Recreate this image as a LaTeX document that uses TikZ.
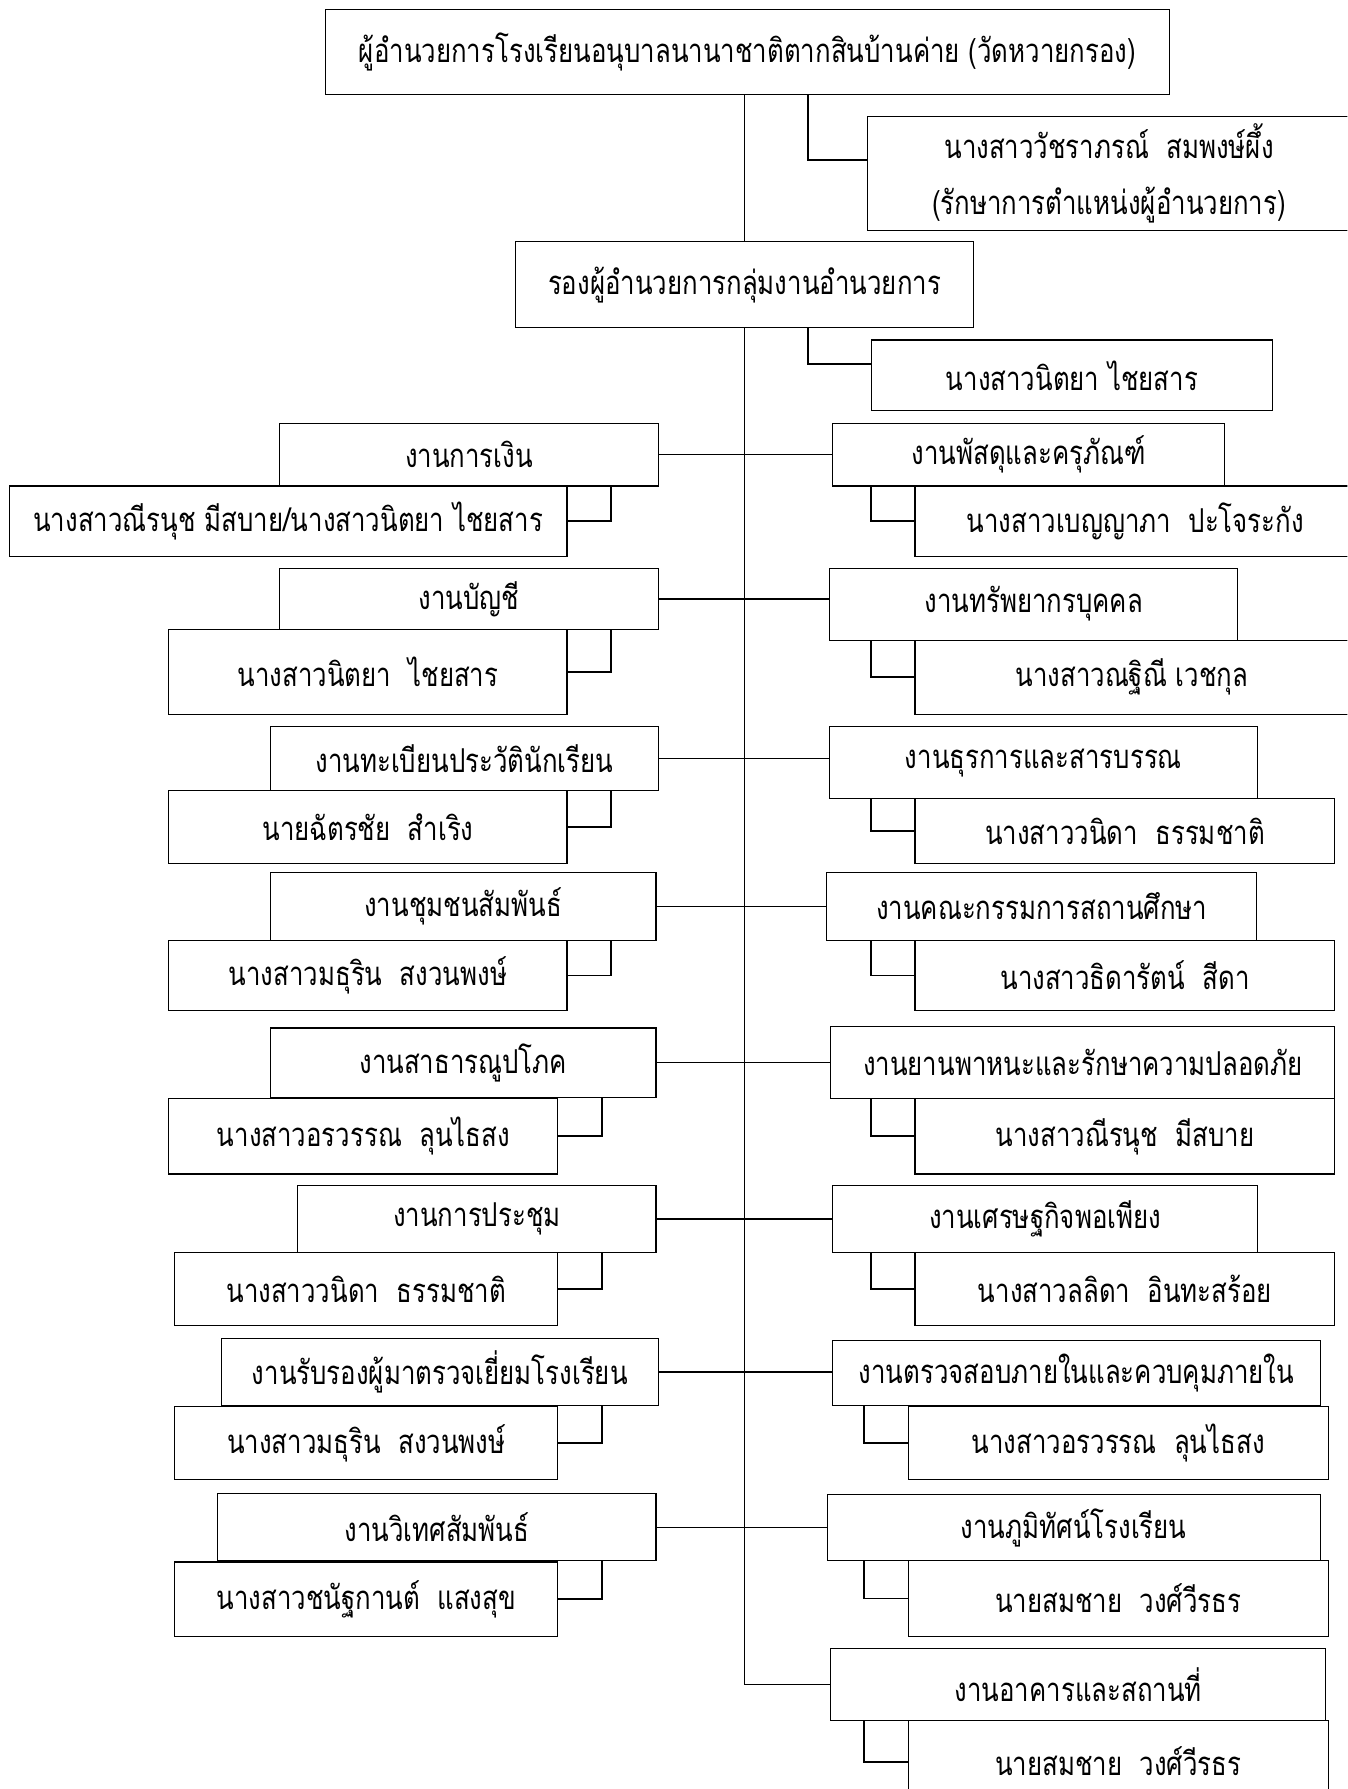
\documentclass[tikz,border=0pt]{standalone}
\usepackage{fontspec}
\newfontfamily\thaifont[Script=Thai,FakeStretch=0.785]{Loma}

\begin{document}
\begin{tikzpicture}[x=0.025cm, y=-0.025cm,
  bx/.style 2 args={draw, line width=0.7pt, minimum width=#1*0.025cm,
    minimum height=#2*0.025cm, inner sep=0pt, align=center,
    font=\thaifont\fontsize{20.5}{24}\selectfont},
  ln/.style={line width=0.8pt},
  brk/.style={line width=1.2pt}]
\useasboundingbox (0,0) rectangle (1181,1568);
\clip (0,0) rectangle (1181,1568);
% top of the chart
\node[bx={740}{75}] (dir) at (655,45.5) {ผู้อำนวยการโรงเรียนอนุบาลนานาชาติตากสินบ้านค่าย (วัดหวายกรอง)};
\node[bx={424}{100}] (dirname) at (972,152) {นางสาววัชราภรณ์~~สมพงษ์ผึ้ง\\[11pt](รักษาการตำแหน่งผู้อำนวยการ)};
\node[bx={401}{75}] (dep) at (652.5,249.5) {รองผู้อำนวยการกลุ่มงานอำนวยการ};
\node[bx={351}{62}] (depname) at (939.5,329) {นางสาวนิตยา ไชยสาร};
% left column
\node[bx={332}{55}] (l1) at (411,398.5) {งานการเงิน};
\node[bx={489}{62}] (lp1) at (252.5,457) {นางสาวณีรนุช มีสบาย/นางสาวนิตยา ไชยสาร};
\node[bx={332}{54}] (l2) at (411,525) {งานบัญชี};
\node[bx={349}{74}] (lp2) at (322.5,589) {นางสาวนิตยา~~ไชยสาร};
\node[bx={340}{56}] (l3) at (407,665) {งานทะเบียนประวัตินักเรียน};
\node[bx={349}{64}] (lp3) at (322.5,725) {นายฉัตรชัย~~สำเริง};
\node[bx={338}{59}] (l4) at (406,794.5) {งานชุมชนสัมพันธ์};
\node[bx={349}{62}] (lp4) at (322.5,855) {นางสาวมธุริน~~สงวนพงษ์};
\node[bx={338}{61}] (l5) at (406,931.5) {งานสาธารณูปโภค};
\node[bx={341}{66}] (lp5) at (318.5,996) {นางสาวอรวรรณ~~ลุนไธสง};
\node[bx={314}{59}] (l6) at (418,1068.5) {งานการประชุม};
\node[bx={336}{64}] (lp6) at (321,1130) {นางสาววนิดา~~ธรรมชาติ};
\node[bx={383}{59}] (l7) at (385.5,1202.5) {งานรับรองผู้มาตรวจเยี่ยมโรงเรียน};
\node[bx={336}{64}] (lp7) at (321,1265) {นางสาวมธุริน~~สงวนพงษ์};
\node[bx={384}{59}] (l8) at (383,1338.5) {งานวิเทศสัมพันธ์};
\node[bx={336}{65}] (lp8) at (321,1401.5) {นางสาวชนัฐกานต์~~แสงสุข};
% right column
\node[bx={343}{55}] (r1) at (901.5,398.5) {งานพัสดุและครุภัณฑ์};
\node[bx={386}{62}] (rp1) at (995,457) {นางสาวเบญญาภา~~ปะโจระกัง};
\node[bx={358}{63}] (r2) at (906,529.5) {งานทรัพยากรบุคคล};
\node[bx={380}{65}] (rp2) at (992,593.5) {นางสาวณฐิณี เวชกุล};
\node[bx={375}{63}] (r3) at (914.5,668.5) {งานธุรการและสารบรรณ};
\node[bx={368}{57}] (rp3) at (986,728.5) {นางสาววนิดา~~ธรรมชาติ};
\node[bx={377}{59}] (r4) at (913,794.5) {งานคณะกรรมการสถานศึกษา};
\node[bx={368}{62}] (rp4) at (986,855) {นางสาวธิดารัตน์~~สีดา};
\node[bx={442}{63}] (r5) at (949,931.5) {งานยานพาหนะและรักษาความปลอดภัย};
\node[bx={368}{66}] (rp5) at (986,996) {นางสาวณีรนุช~~มีสบาย};
\node[bx={372}{59}] (r6) at (916,1068.5) {งานเศรษฐกิจพอเพียง};
\node[bx={368}{64}] (rp6) at (986,1130) {นางสาวลลิดา~~อินทะสร้อย};
\node[bx={427}{57}] (r7) at (943.5,1203.5) {งานตรวจสอบภายในและควบคุมภายใน};
\node[bx={368}{64}] (rp7) at (980,1265) {นางสาวอรวรรณ~~ลุนไธสง};
\node[bx={432}{58}] (r8) at (941,1339) {งานภูมิทัศน์โรงเรียน};
\node[bx={368}{66}] (rp8) at (980,1401) {นายสมชาย~~วงศ์วีรธร};
\node[bx={434}{63}] (r9) at (945,1476.5) {งานอาคารและสถานที่};
\node[bx={368}{72}] (rp9) at (980,1544) {นายสมชาย~~วงศ์วีรธร};
% main line
\draw[ln] (dep.north |- dir.south) -- (dep.north);
\draw[ln] (dep.south) -- (dep.south |- r9.west) -- (r9.west);
\draw[brk] (dir.south) ++(53,0) |- ([yshift=0.3cm]dirname.west);
\draw[brk] (dep.south) ++(56,0) |- ([yshift=0.25cm]depname.west);
% rows
\foreach \i in {1,...,8}
  \draw[ln] (l\i.east) -- (l\i.east -| r\i.west);
\foreach \i in {1,...,8}
  \draw[brk] (l\i.south -| lp\i.east) ++(38,0) |- (lp\i.east);
\foreach \i in {1,...,9}
  \draw[brk] (r\i.south -| rp\i.west) ++(-38,0) |- (rp\i.west);
\end{tikzpicture}
\end{document}
